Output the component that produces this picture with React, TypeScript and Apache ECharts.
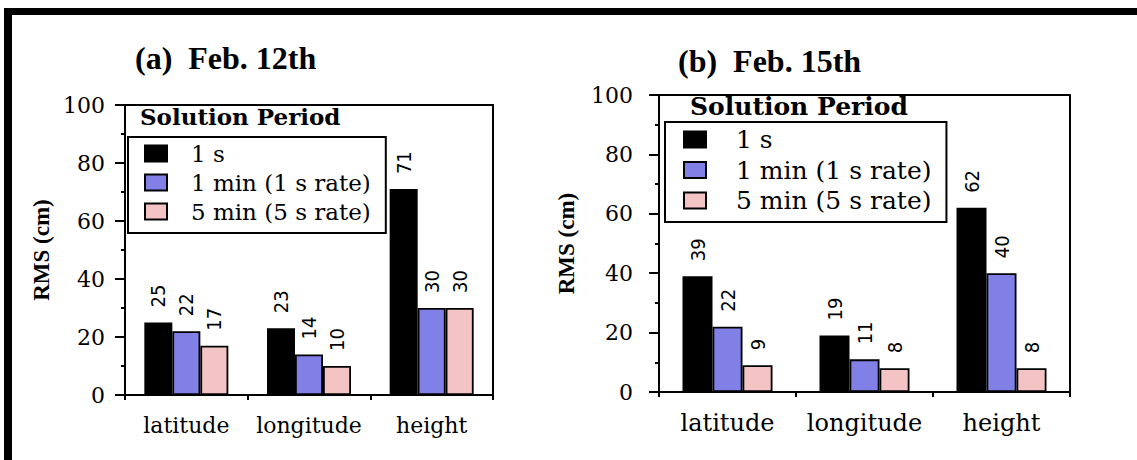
import React, { useEffect, useRef } from "react";
import * as echarts from "echarts";

// Categories and RMS values (cm) for each solution period
const categories = ["latitude", "longitude", "height"];
const seriesNames = ["1 s", "1 min (1 s rate)", "5 min (5 s rate)"];
const feb12OneSec = [25, 23, 71];
const feb12OneMin = [22, 14, 30];
const feb12FiveMin = [17, 10, 30];
const feb15OneSec = [39, 19, 62];
const feb15OneMin = [22, 11, 40];
const feb15FiveMin = [9, 8, 8];
const yTicks = { min: 0, max: 100, interval: 20 };

const barColors = ["#000000", "#8080e6", "#f4c4c4"];
const serif = '"Liberation Serif", "Times New Roman", serif';
const wideSerif = '"DejaVu Serif", serif';
const narrowSans = '"Liberation Sans Narrow", "Arial Narrow", "DejaVu Sans Condensed", sans-serif';

function makeBar(name: string, data: number[], idx: number, axis: number, width: number) {
  return {
    type: "bar",
    name,
    data,
    xAxisIndex: axis,
    yAxisIndex: axis,
    barWidth: width,
    barGap: "0%",
    itemStyle: { color: barColors[idx], borderColor: "#000", borderWidth: 1.8 },
    label: {
      show: true,
      position: "top",
      distance: 15,
      rotate: 90,
      align: "left",
      verticalAlign: "middle",
      fontFamily: narrowSans,
      fontSize: 20,
      color: "#000",
    },
  };
}

function makeXAxis(grid: number, fontSize: number, margin: number) {
  return {
    type: "category",
    gridIndex: grid,
    data: categories,
    axisLine: { lineStyle: { color: "#000", width: 2 } },
    axisTick: { show: true, length: 5, lineStyle: { color: "#000", width: 2 } },
    axisLabel: { color: "#000", fontFamily: wideSerif, fontSize, margin, interval: 0 },
  };
}

function makeYAxis(grid: number, labelMargin: number, nameGap: number) {
  return {
    type: "value",
    gridIndex: grid,
    min: yTicks.min,
    max: yTicks.max,
    interval: yTicks.interval,
    name: "RMS (cm)",
    nameLocation: "middle",
    nameRotate: 90,
    nameGap,
    nameTextStyle: { color: "#000", fontFamily: serif, fontWeight: "bold", fontSize: 23 },
    axisLine: { show: true, lineStyle: { color: "#000", width: 2 } },
    axisTick: { show: true, length: 10, lineStyle: { color: "#000", width: 2 } },
    minorTick: { show: true, splitNumber: 2, length: 4, lineStyle: { color: "#000", width: 2 } },
    splitLine: { show: false },
    axisLabel: { color: "#000", fontFamily: wideSerif, fontSize: 22, margin: labelMargin },
  };
}

function makeLegend(
  left: number,
  top: number,
  padding: number[],
  textPad: number,
  fontSize: number,
  itemGap: number
) {
  return {
    orient: "vertical",
    left,
    top,
    data: seriesNames,
    icon: "rect",
    itemWidth: 22,
    itemHeight: 16,
    itemGap,
    padding,
    borderColor: "#000",
    borderWidth: 2,
    backgroundColor: "#fff",
    selectedMode: false,
    textStyle: {
      color: "#000",
      fontFamily: wideSerif,
      fontSize,
      lineHeight: fontSize,
      padding: [0, 0, 0, textPad],
    },
  };
}

export default function App() {
  const ref = useRef<HTMLDivElement>(null);

  useEffect(() => {
    if (!ref.current) return;
    const chart = echarts.init(ref.current, undefined, { renderer: "svg" });
    const titleStyle = { color: "#000", fontFamily: serif, fontWeight: "bold", fontSize: 32 };
    const option = {
      animation: false,
      backgroundColor: "#fff",
      title: [
        { text: "(a)  Feb. 12th", left: 135, top: 42, padding: 0, textStyle: titleStyle },
        { text: "(b)  Feb. 15th", left: 678, top: 45, padding: 0, textStyle: titleStyle },
      ],
      grid: [
        { left: 125, top: 105, width: 368, height: 290, show: true, borderColor: "#000", borderWidth: 2 },
        { left: 659, top: 95, width: 411, height: 297, show: true, borderColor: "#000", borderWidth: 2 },
      ],
      xAxis: [makeXAxis(0, 22, 19), makeXAxis(1, 24, 19)],
      yAxis: [makeYAxis(0, 20, 72), makeYAxis(1, 26, 81)],
      legend: [
        makeLegend(128, 137, [5, 15, 10, 16], 19, 23, 6),
        makeLegend(665, 122, [5, 15, 9, 18], 25, 25, 5.5),
      ],
      series: [
        makeBar(seriesNames[0], feb12OneSec, 0, 0, 28),
        makeBar(seriesNames[1], feb12OneMin, 1, 0, 28),
        makeBar(seriesNames[2], feb12FiveMin, 2, 0, 28),
        makeBar(seriesNames[0], feb15OneSec, 0, 1, 30),
        makeBar(seriesNames[1], feb15OneMin, 1, 1, 30),
        makeBar(seriesNames[2], feb15FiveMin, 2, 1, 30),
      ],
      graphic: [
        // outer figure frame (top and left edges)
        { type: "rect", shape: { x: 4, y: 8, width: 1133, height: 7 }, style: { fill: "#000" } },
        { type: "rect", shape: { x: 4, y: 8, width: 8, height: 452 }, style: { fill: "#000" } },
        {
          type: "text",
          left: 140,
          top: 105,
          style: { text: "Solution Period", font: `bold 23px ${wideSerif}`, fill: "#000" },
        },
        {
          type: "text",
          left: 690,
          top: 94,
          style: { text: "Solution Period", font: `bold 25px ${wideSerif}`, fill: "#000" },
        },
      ],
    };
    chart.setOption(option as any);
    return () => chart.dispose();
  }, []);

  return (
    <div
      ref={ref}
      style={{ position: "fixed", left: 0, top: 0, width: 1137, height: 460, background: "#fff" }}
    />
  );
}
